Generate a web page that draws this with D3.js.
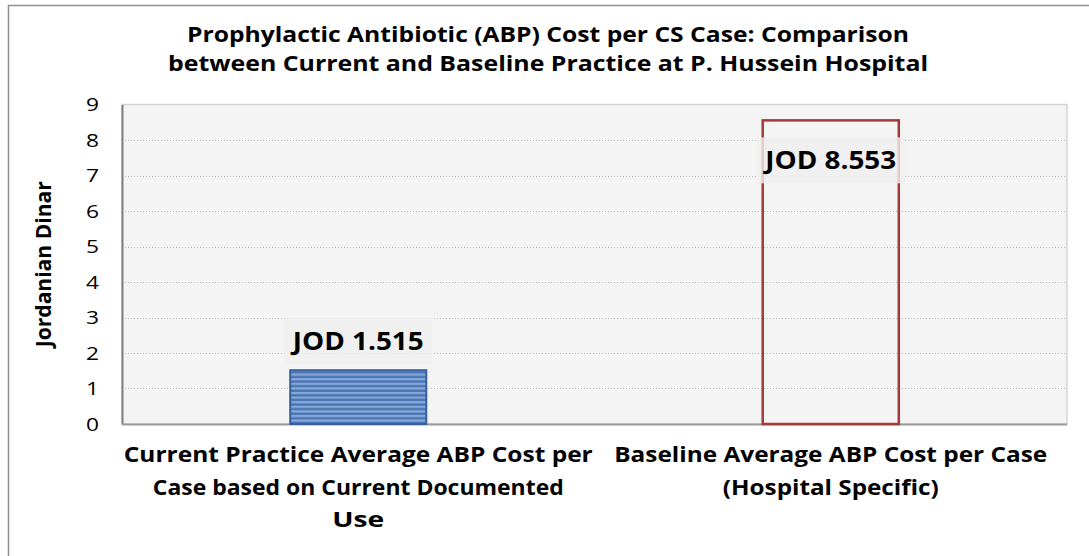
<!DOCTYPE html>
<html>
<head>
<meta charset="utf-8">
<script src="https://cdn.jsdelivr.net/npm/d3@7"></script>
<style>
  body { margin: 0; background: #fff; }
  text { font-family: "Open Sans", "Noto Sans", sans-serif; }
</style>
</head>
<body>
<div id="chart"></div>
<script>
// chart data
const categories = ['current', 'baseline'];
const categoryLabels = [
  ['Current Practice Average ABP Cost per', 'Case based on Current Documented', 'Use'],
  ['Baseline Average ABP Cost per Case', '(Hospital Specific)']
];
const values = [1.515, 8.553];
const valueLabels = ['JOD 1.515', 'JOD 8.553'];
const yTicks = [0, 1, 2, 3, 4, 5, 6, 7, 8, 9];
const titleLines = [
  'Prophylactic Antibiotic (ABP) Cost per CS Case: Comparison',
  'between Current and Baseline Practice at P. Hussein Hospital'
];

// widths of the text lines as seen in the picture (the original font is narrower/wider)
const titleWidths = [722, 760];
const categoryWidths = [[469, 411, 52], [433, 216]];

var width = 1089, height = 556;
var plot = { left: 122, top: 104.5, right: 1067, bottom: 424 };

var svg = d3.select('#chart').append('svg')
  .attr('width', width)
  .attr('height', height);

// stripes for first bar
var defs = svg.append('defs');
var pat = defs.append('pattern')
  .attr('id', 'stripes')
  .attr('patternUnits', 'userSpaceOnUse')
  .attr('width', 8).attr('height', 4.6);
pat.append('rect').attr('width', 8).attr('height', 4.6).attr('fill', '#4770ad');
pat.append('rect').attr('y', 0.8).attr('width', 8).attr('height', 2.4).attr('fill', '#86a9dc');

// outer chart border
svg.append('rect')
  .attr('x', 8.5).attr('y', 5.5)
  .attr('width', 1100).attr('height', 600)
  .attr('fill', '#fff')
  .attr('stroke', '#909090')
  .attr('stroke-width', 1.5);

var x = d3.scaleBand()
  .domain(categories)
  .range([plot.left, plot.right])
  .paddingInner(0.712)
  .paddingOuter(0.356);

var y = d3.scaleLinear()
  .domain([0, 9])
  .range([plot.bottom, plot.top]);

// plot area
svg.append('rect')
  .attr('x', plot.left).attr('y', plot.top)
  .attr('width', plot.right - plot.left).attr('height', plot.bottom - plot.top)
  .attr('fill', '#f4f4f4')
  .attr('stroke', '#d4d4d4')
  .attr('stroke-width', 1.5);

// gridlines
svg.append('g')
  .selectAll('line')
  .data(yTicks.filter(d => d > 0 && d < 9))
  .enter().append('line')
    .attr('x1', plot.left).attr('x2', plot.right)
    .attr('y1', d => Math.round(y(d)) + 0.5)
    .attr('y2', d => Math.round(y(d)) + 0.5)
    .attr('stroke', '#bdbdbd')
    .attr('stroke-dasharray', '1,2');

// y axis
var yAxis = svg.append('g')
  .attr('transform', 'translate(' + plot.left + ',0)')
  .call(d3.axisLeft(y).tickValues(yTicks).tickSize(0).tickPadding(23));
yAxis.select('.domain').attr('stroke', '#808080').attr('stroke-width', 2);
yAxis.selectAll('text')
  .style('font-family', '"Open Sans", sans-serif')
  .style('font-size', '19px')
  .attr('fill', '#000')
  .attr('textLength', 13)
  .attr('lengthAdjust', 'spacingAndGlyphs');

// x axis line
svg.append('line')
  .attr('x1', plot.left).attr('x2', plot.right)
  .attr('y1', plot.bottom + 0.5).attr('y2', plot.bottom + 0.5)
  .attr('stroke', '#9a9a9a')
  .attr('stroke-width', 2);

// bars
svg.append('rect')
  .attr('x', x(categories[0]))
  .attr('y', y(values[0]))
  .attr('width', x.bandwidth())
  .attr('height', y(0) - y(values[0]))
  .attr('fill', 'url(#stripes)')
  .attr('stroke', '#375f99')
  .attr('stroke-width', 2);

svg.append('rect')
  .attr('x', x(categories[1]))
  .attr('y', y(values[1]))
  .attr('width', x.bandwidth())
  .attr('height', y(0) - y(values[1]))
  .attr('fill', 'none')
  .attr('stroke', '#a33a3a')
  .attr('stroke-width', 2.5);

// value labels (first sits above its bar, second inside the top of its bar)
var labelCenter = [y(values[0]) - 29.5, y(values[1]) + 40];
valueLabels.forEach(function(lbl, i) {
  var cx = x(categories[i]) + x.bandwidth() / 2;
  svg.append('rect')
    .attr('x', cx - 74).attr('y', labelCenter[i] - 23)
    .attr('width', 148).attr('height', 46)
    .attr('fill', '#efefef')
    .attr('opacity', 0.8);
  svg.append('text')
    .attr('x', cx).attr('y', labelCenter[i] + 9)
    .attr('text-anchor', 'middle')
    .style('font-size', '25px')
    .style('font-weight', 'bold')
    .attr('textLength', 131)
    .attr('lengthAdjust', 'spacingAndGlyphs')
    .text(lbl);
});

// category labels
categoryLabels.forEach(function(lines, i) {
  var cx = x(categories[i]) + x.bandwidth() / 2;
  lines.forEach(function(line, j) {
    svg.append('text')
      .attr('x', cx).attr('y', 462 + j * 32.5)
      .attr('text-anchor', 'middle')
      .style('font-size', '21px')
      .style('font-weight', 'bold')
      .attr('textLength', categoryWidths[i][j])
      .attr('lengthAdjust', 'spacingAndGlyphs')
      .text(line);
  });
});

// title
titleLines.forEach(function(line, j) {
  svg.append('text')
    .attr('x', 548).attr('y', 42 + j * 29)
    .attr('text-anchor', 'middle')
    .style('font-size', '22px')
    .style('font-weight', 'bold')
    .attr('textLength', titleWidths[j])
    .attr('lengthAdjust', 'spacingAndGlyphs')
    .text(line);
});

// y axis title
svg.append('text')
  .attr('transform', 'translate(51,' + (plot.top + plot.bottom) / 2 + ') rotate(-90)')
  .attr('text-anchor', 'middle')
  .style('font-size', '22px')
  .style('font-weight', 'bold')
  .attr('textLength', 166)
  .attr('lengthAdjust', 'spacingAndGlyphs')
  .text('Jordanian Dinar');
</script>
</body>
</html>
